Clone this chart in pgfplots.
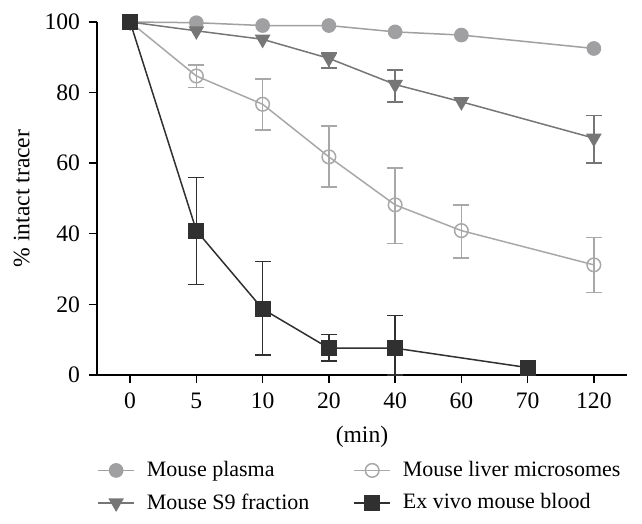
\documentclass[border=0pt]{standalone}
\usepackage{pgfplots}
\pgfplotsset{compat=1.18}
\usepackage{pgfplotstable}
\usepackage{fontspec}
\setmainfont{Liberation Serif}
\definecolor{plasmac}{RGB}{160,160,162}
\definecolor{microc}{RGB}{168,168,168}
\definecolor{sninec}{RGB}{118,118,118}
\definecolor{bloodc}{RGB}{48,48,48}
\pgfplotstableread{
x y
0 100
1 99.8
2 99.0
3 99.0
4 97.2
5 96.3
7 92.5
}\plasma
\pgfplotstableread{
x y ep em
0 100 0 0
1 84.7 3.1 3.2
2 76.7 7.2 7.3
3 61.8 8.8 8.6
4 48.2 10.5 10.9
5 40.9 7.3 7.7
7 31.2 7.7 7.8
}\micro
\pgfplotstableread{
x y
0 100
1 97.5
2 95.1
3 89.7
4 82.3
5 77.4
7 67.1
}\snine
\pgfplotstableread{
x y ep em
3 89.7 1.5 2.7
4 82.3 4.1 4.9
7 67.1 6.4 7.0
}\snineerr
\pgfplotstableread{
x y
0 100
1 40.9
2 18.7
3 7.6
4 7.6
6 2.1
}\blood
\pgfplotstableread{
x y ep em
1 40.9 15.1 15.2
2 18.7 13.4 13.1
3 7.6 3.9 3.6
4 7.6 9.2 7.6
}\blooderr
\begin{document}
\begin{tikzpicture}[font=\fontsize{11}{13}\selectfont]
\path[use as bounding box] (-48.5pt,-74.5pt) rectangle (272.5pt,187.5pt);
\begin{axis}[
  scale only axis, width=265pt, height=176.5pt,
  xmin=-0.5, xmax=7.5, ymin=0, ymax=100,
  axis lines*=left,
  xtick={0,...,7}, xticklabels={0,5,10,20,40,60,70,120},
  ytick={0,20,...,100},
  tick align=outside, major tick length=4pt,
  tick style={black, line width=0.7pt},
  axis line style={black, line width=0.7pt},
  tick label style={font=\fontsize{11.8}{14}\selectfont},
  xticklabel style={yshift=-1.5pt},
  yticklabel style={xshift=-1pt},
  /pgf/number format/assume math mode=true,
  xlabel={(min)}, ylabel={\% intact tracer},
  xlabel style={at={(axis description cs:0.5,-0.176)}, anchor=center, font=\fontsize{11.8}{14}\selectfont},
  ylabel style={at={(axis description cs:-0.142,0.5)}, anchor=center, font=\fontsize{11.8}{14}\selectfont},
  legend columns=2, legend cell align=left,
  legend style={draw=none, fill=none, at={(0,-0.232)}, anchor=north west,
    inner xsep=0pt, inner ysep=0pt, row sep=3pt,
    /tikz/every odd column/.append style={column sep=4pt},
    /tikz/every even column/.append style={column sep=20pt},
    font=\fontsize{11}{13}\selectfont},
  legend image code/.code={\draw[mark repeat=2,mark phase=2] plot coordinates {(0pt,0pt)(9pt,0pt)(18pt,0pt)};},
]
% error bars first
\addplot[microc, mark=none, draw=none, forget plot,
  error bars/.cd, y dir=both, y explicit, error bar style={microc, line width=0.75pt},
  error mark options={rotate=90, mark size=4pt, microc, line width=0.75pt}]
  table[x=x, y=y, y error plus=ep, y error minus=em] {\micro};
\addplot[sninec, mark=none, draw=none, forget plot,
  error bars/.cd, y dir=both, y explicit, error bar style={sninec, line width=0.75pt},
  error mark options={rotate=90, mark size=4pt, sninec, line width=0.75pt}]
  table[x=x, y=y, y error plus=ep, y error minus=em] {\snineerr};
\addplot[bloodc, mark=none, draw=none, forget plot,
  error bars/.cd, y dir=both, y explicit, error bar style={bloodc, line width=0.75pt},
  error mark options={rotate=90, mark size=4pt, bloodc, line width=0.75pt}]
  table[x=x, y=y, y error plus=ep, y error minus=em] {\blooderr};
% main series
\addplot[plasmac, line width=0.75pt, mark=*, mark size=3.3pt, mark options={fill=plasmac, draw=plasmac}]
  table[x=x, y=y] {\plasma};
\addlegendentry{Mouse plasma}
\addplot[microc, line width=0.75pt, mark=o, mark size=3.4pt, mark options={fill=white, draw=microc}]
  table[x=x, y=y] {\micro};
\addlegendentry{Mouse liver microsomes}
\addplot[sninec, line width=0.75pt, mark=triangle*, mark size=3.8pt, mark options={fill=sninec, draw=sninec, rotate=180}]
  table[x=x, y=y] {\snine};
\addlegendentry{Mouse S9 fraction}
\addplot[bloodc, line width=0.75pt, mark=square*, mark size=3.6pt, mark options={fill=bloodc, draw=bloodc}]
  table[x=x, y=y] {\blood};
\addlegendentry{Ex vivo mouse blood}
\end{axis}
\end{tikzpicture}
\end{document}
